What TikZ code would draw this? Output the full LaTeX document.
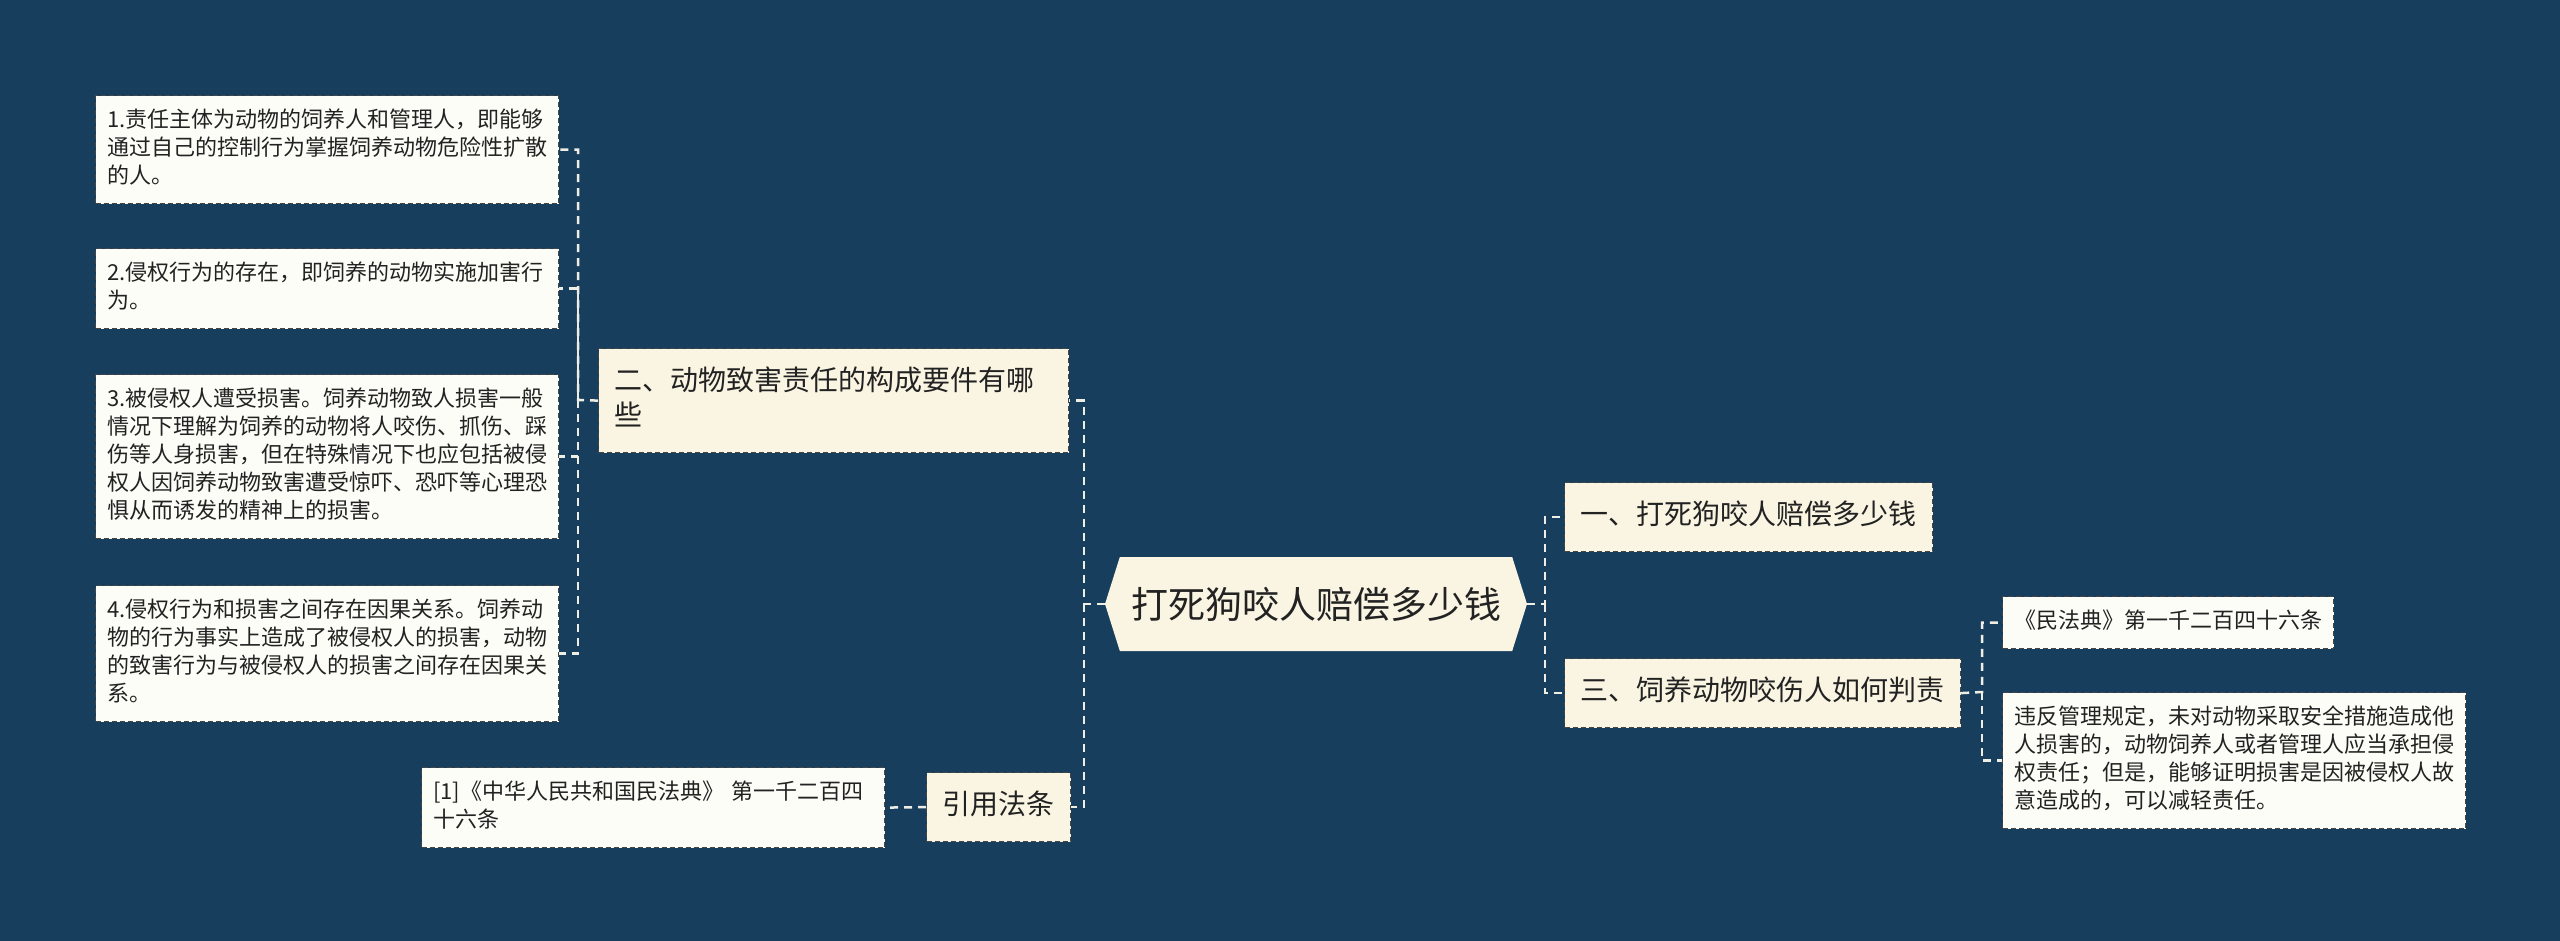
\documentclass[tikz,border=0pt]{standalone}
\usepackage{fontspec}
\setmainfont{Noto Sans CJK SC}
\usepackage{tikz}
\usetikzlibrary{shapes.symbols}
\definecolor{mapbg}{RGB}{24,62,94}
\definecolor{topicfill}{RGB}{250,245,226}
\definecolor{notefill}{RGB}{253,253,247}
\definecolor{boxline}{RGB}{70,70,70}
\definecolor{linkcol}{RGB}{238,238,228}
\definecolor{inkcol}{RGB}{34,34,34}

\begin{document}
\begin{tikzpicture}[x=1pt,y=-1pt,
  note/.style={draw=boxline,line width=1.2pt,dash pattern=on 5pt off 3pt,fill=notefill,text=inkcol,
    anchor=north west,align=left,font=\fontsize{22}{28}\selectfont,inner xsep=11.5pt,inner ysep=12pt,
    execute at begin node=\strut,execute at end node=\strut},
  widenote/.style={note,text width=440pt},
  topic/.style={draw=boxline,line width=1.2pt,dash pattern=on 5pt off 3pt,fill=topicfill,text=inkcol,
    anchor=north west,align=left,font=\fontsize{28}{35}\selectfont,inner xsep=16pt,inner ysep=17pt,
    execute at begin node=\strut,execute at end node=\strut},
  root/.style={signal,signal to=west and east,signal pointer angle=145,fill=topicfill,text=inkcol,
    font=\fontsize{37}{44}\selectfont,minimum width=422pt,minimum height=94pt,inner sep=0pt},
  link/.style={draw=linkcol,line width=2.5pt,dash pattern=on 8pt off 6pt}]
% background and page size
\fill[mapbg] (0,0) rectangle (2560,941);

% centre topic
\node[root] (root) at (1316,604) {打死狗咬人赔偿多少钱};

% left side: topic two and its four points
\node[topic,text width=438pt] (two) at (598,348) {二、动物致害责任的构成要件有哪\\些};
\node[widenote] (p1) at (95,95) {1.责任主体为动物的饲养人和管理人，即能够\\通过自己的控制行为掌握饲养动物危险性扩散\\的人。};
\node[widenote] (p2) at (95,248) {2.侵权行为的存在，即饲养的动物实施加害行\\为。};
\node[widenote] (p3) at (95,374) {3.被侵权人遭受损害。饲养动物致人损害一般\\情况下理解为饲养的动物将人咬伤、抓伤、踩\\伤等人身损害，但在特殊情况下也应包括被侵\\权人因饲养动物致害遭受惊吓、恐吓等心理恐\\惧从而诱发的精神上的损害。};
\node[widenote] (p4) at (95,585) {4.侵权行为和损害之间存在因果关系。饲养动\\物的行为事实上造成了被侵权人的损害，动物\\的致害行为与被侵权人的损害之间存在因果关\\系。};

% left side: cited law
\node[topic] (cite) at (926,772) {引用法条};
\node[widenote] (ref) at (421,767) {[1]《中华人民共和国民法典》 第一千二百四\\十六条};

% right side
\node[topic] (one) at (1564,482) {一、打死狗咬人赔偿多少钱};
\node[topic] (three) at (1564,658) {三、饲养动物咬伤人如何判责};
\node[note] (law) at (2002,596) {《民法典》第一千二百四十六条};
\node[widenote] (rule) at (2002,692) {违反管理规定，未对动物采取安全措施造成他\\人损害的，动物饲养人或者管理人应当承担侵\\权责任；但是，能够证明损害是因被侵权人故\\意造成的，可以减轻责任。};

% connectors
\coordinate (lbus) at (1084,604);
\coordinate (pbus) at (578,400);
\coordinate (rbus) at (1545,604);
\coordinate (tbus) at (1982,692);
\draw[link] (root.west) -- (lbus) |- (two.east);
\draw[link] (lbus) |- (cite.east);
\draw[link] (cite.west) -- (ref.east);
\draw[link] (two.west) -- (pbus) |- (p1.east);
\draw[link] (pbus) |- (p2.east);
\draw[link] (pbus) |- (p3.east);
\draw[link] (pbus) |- (p4.east);
\draw[link] (root.east) -- (rbus) |- (one.west);
\draw[link] (rbus) |- (three.west);
\draw[link] (three.east) -- (tbus) |- (law.west);
\draw[link] (tbus) |- (rule.west);
\end{tikzpicture}
\end{document}
